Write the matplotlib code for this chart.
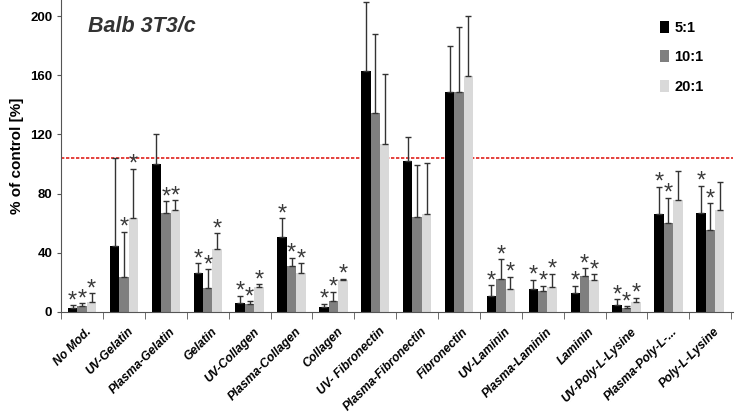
import matplotlib.pyplot as plt
import numpy as np

plt.rcParams['font.family'] = ['Liberation Sans', 'DejaVu Sans']

categories = ["No Mod.", "UV-Gelatin", "Plasma-Gelatin", "Gelatin", "UV-Collagen",
              "Plasma-Collagen", "Collagen", "UV- Fibronectin", "Plasma-Fibronectin",
              "Fibronectin", "UV-Laminin", "Plasma-Laminin", "Laminin",
              "UV-Poly-L-Lysine", "Plasma-Poly-L-...", "Poly-L-Lysine"]
series_names = ["5:1", "10:1", "20:1"]

# bar heights
ratio_5 = [2.3, 44.5, 100, 26, 6.1, 50.8, 3.4, 163, 101.7, 149, 10.6, 15.1, 12.4, 4.5, 66, 67]
ratio_10 = [3.8, 23.7, 67, 15.8, 5, 31.2, 7, 134.7, 64.4, 148.7, 22.1, 13.8, 24, 2.3, 60.3, 55]
ratio_20 = [6.8, 63.3, 69, 42.7, 16.5, 26.4, 21.5, 113.7, 66, 159.8, 15.6, 16.7, 21.5, 6.8, 75.7, 68.7]

# upper error (sd)
err_5 = [2.2, 59.5, 20, 6.8, 4.7, 12.5, 1.8, 46.5, 16.3, 31, 7.3, 6.4, 5.2, 3.9, 18.7, 18.2]
err_10 = [1.8, 30.3, 7.8, 12.9, 2.2, 5.2, 6.6, 53.3, 34.6, 44, 13.4, 3.8, 5.4, 1.5, 17, 18.4]
err_20 = [5.6, 33.4, 6.5, 10.3, 2, 6.4, 0.9, 47, 34.6, 40.2, 8.1, 8.8, 3.8, 2.7, 19.3, 19.4]

# significance stars (1 = star)
star_5 = [1, 0, 0, 1, 1, 1, 1, 0, 0, 0, 1, 1, 1, 1, 1, 1]
star_10 = [1, 1, 1, 1, 1, 1, 1, 0, 0, 0, 1, 1, 1, 1, 1, 1]
star_20 = [1, 1, 1, 1, 1, 1, 1, 0, 0, 0, 1, 1, 1, 1, 0, 0]

control_line = 104

colors = ["#000000", "#7f7f7f", "#d9d9d9"]

fig = plt.figure(figsize=(7.37, 4.19), dpi=100)
ax = fig.add_axes([0.083, 0.256, 0.912, 0.744])

x = np.arange(len(categories))
w = 0.225
values = [ratio_5, ratio_10, ratio_20]
errors = [err_5, err_10, err_20]
stars = [star_5, star_10, star_20]

for i in range(3):
    pos = x + (i - 1) * w
    ax.bar(pos, values[i], w, color=colors[i], label=series_names[i], zorder=2)
    ax.errorbar(pos, values[i], yerr=[np.zeros(len(x)), errors[i]], fmt='none',
                ecolor='#333333', elinewidth=1, capsize=2.5, capthick=1, zorder=3)
    for p, v, e, s in zip(pos, values[i], errors[i], stars[i]):
        if s:
            ax.annotate('*', (p, v + e), xytext=(0, -5), textcoords='offset points',
                        ha='center', va='bottom', fontsize=17, color='#3a3a3a')

ax.axhline(control_line, color='#e0201b', linestyle=(0, (2, 1)), linewidth=1.2, zorder=1)

ax.set_xlim(-0.5, len(categories) - 0.45)
ax.set_ylim(0, 211)
ax.set_yticks([0, 40, 80, 120, 160, 200])
ax.set_yticklabels(['0', '40', '80', '120', '160', '200'], fontweight='bold', fontsize=9.5)
ax.set_ylabel('% of control [%]', fontweight='bold', fontsize=11)

ax.set_xticks(x + 0.08)
ax.set_xticklabels(categories, rotation=45, ha='right', rotation_mode='anchor',
                   fontweight='bold', fontstyle='italic', fontsize=8.7)
ax.tick_params(axis='x', which='major', length=0, pad=10)
ax.set_xticks(np.arange(len(categories) + 1) - 0.5, minor=True)
ax.tick_params(axis='x', which='minor', length=5, color='#555555')
ax.tick_params(axis='y', length=3, color='#555555')

for side in ['top', 'right']:
    ax.spines[side].set_visible(False)
ax.spines['left'].set_color('#555555')
ax.spines['bottom'].set_color('#555555')

ax.text(0.04, 0.915, 'Balb 3T3/c', transform=ax.transAxes, fontsize=15.5,
        fontweight='bold', fontstyle='italic', color='#333333', va='center')

leg = ax.legend(loc='upper right', bbox_to_anchor=(0.975, 0.975), frameon=False,
                handlelength=0.65, handleheight=0.9, labelspacing=1.05, handletextpad=0.35,
                prop={'weight': 'bold', 'size': 10.5})

fig.savefig('out.png', dpi=100)
